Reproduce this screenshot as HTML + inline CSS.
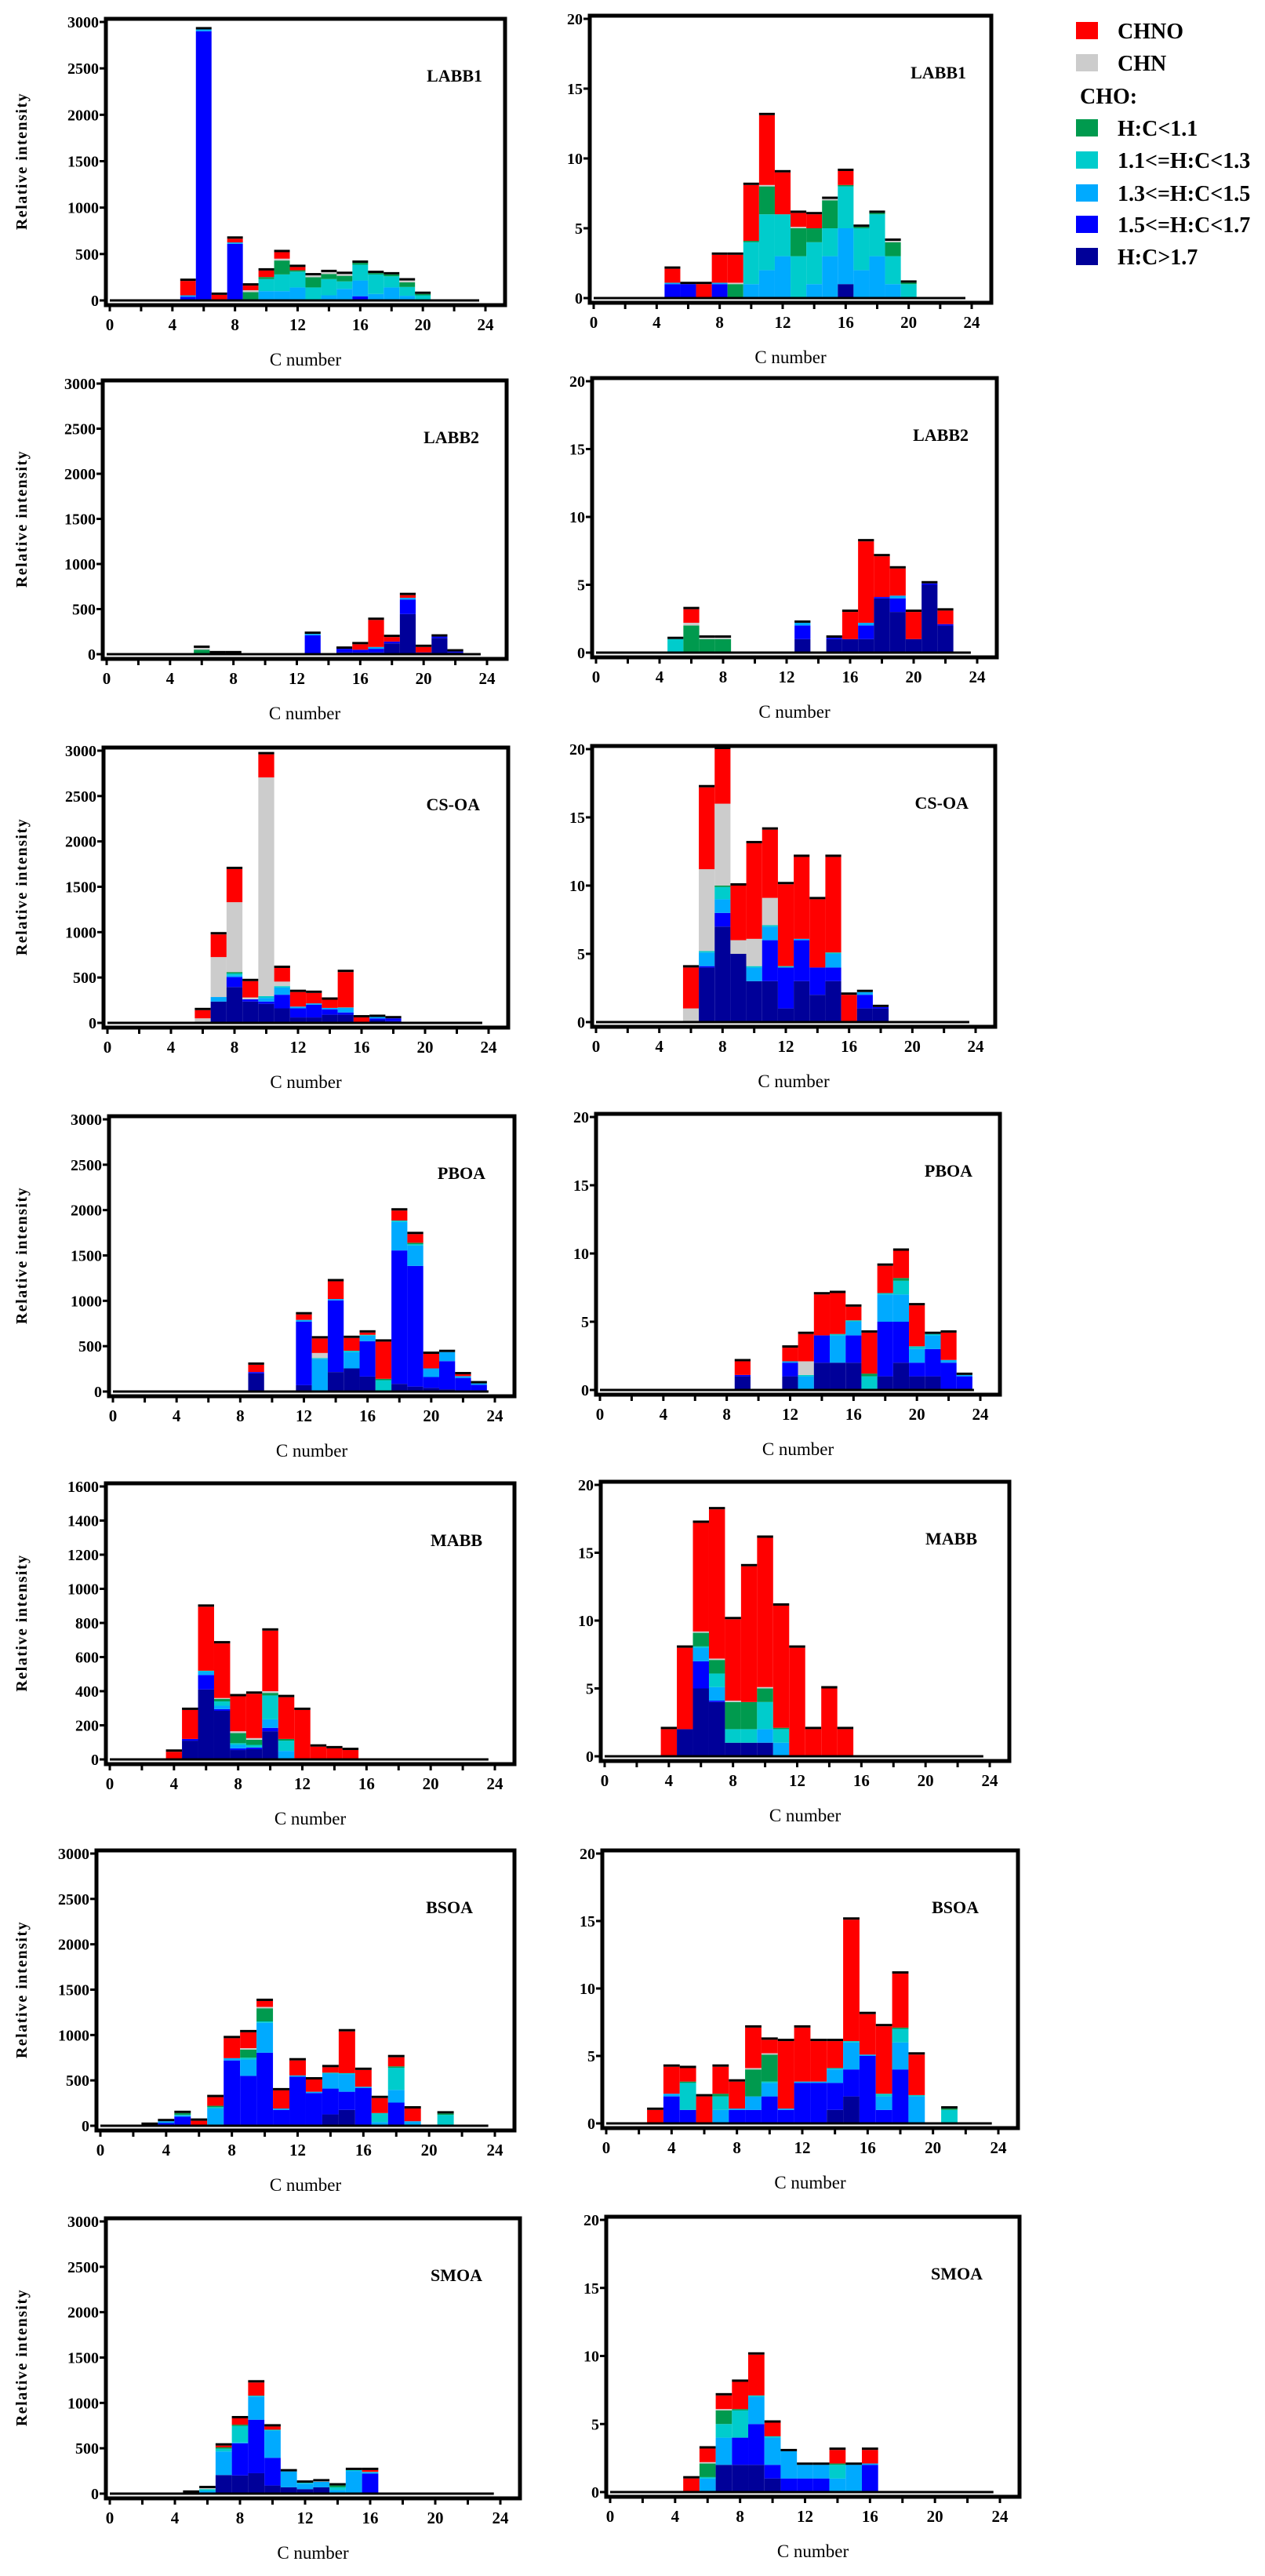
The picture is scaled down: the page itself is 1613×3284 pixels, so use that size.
<!DOCTYPE html>
<html><head><meta charset="utf-8"><style>
html,body{margin:0;padding:0;background:#fff;}
svg text{font-family:"Liberation Serif",serif;}
</style></head><body>
<svg id="chart" width="1613" height="3279" viewBox="0 0 1613 3279" xmlns="http://www.w3.org/2000/svg"></svg>
<script>
// series order: H:C>1.7, 1.5-1.7, 1.3-1.5, 1.1-1.3, H:C<1.1, CHN, CHNO
const seriesNames = ["H:C>1.7","1.5<=H:C<1.7","1.3<=H:C<1.5","1.1<=H:C<1.3","H:C<1.1","CHN","CHNO"];
const seriesColors = ["#000099","#0000ff","#00aaff","#00cccc","#009a4e","#cccccc","#ff0000"];

// ---- LABB1 left ----
const labb1L_c   = [5,6,7,8,9,10,11,12,13,14,15,16,17,18,19,20];
const labb1L_dkb = [0,0,0,0,0,0,0,0,0,0,0,0,0,0,0,0];
const labb1L_blu = [40,2900,0,610,0,0,0,0,0,0,0,45,0,0,0,0];
const labb1L_lbl = [15,20,0,15,0,100,100,140,0,55,125,170,70,140,50,0];
const labb1L_cya = [0,0,0,0,0,130,180,170,140,175,80,170,210,120,95,55];
const labb1L_grn = [0,0,0,0,90,22,150,15,110,55,60,20,15,20,50,15];
const labb1L_gry = [0,0,0,0,20,0,20,0,20,20,20,0,0,0,20,0];
const labb1L_red = [155,0,60,40,50,70,70,35,0,0,0,0,0,0,0,0];
// ---- LABB1 right ----
const labb1R_c   = [5,6,7,8,9,10,11,12,13,14,15,16,17,18,19,20];
const labb1R_dkb = [0,0,0,0,0,0,0,0,0,0,0,1,0,0,0,0];
const labb1R_blu = [1,1,0,1,0,0,0,0,0,0,0,0,0,0,0,0];
const labb1R_lbl = [0.1,0,0,0.1,0,1,2,3,0,1,3,4,2,3,1,0];
const labb1R_cya = [0,0,0,0,0,3,4,3,3,3,2,3,3,3,2,1];
const labb1R_grn = [0,0,0,0,1,0.1,2,0,2,1,2,0.1,0.1,0.1,1,0.1];
const labb1R_gry = [0,0,0,0,0.1,0,0.1,0,0.1,0,0.1,0,0,0,0.1,0];
const labb1R_red = [1,0,1,2,2,4,5,3,1,1,0,1,0,0,0,0];
// ---- LABB2 left ----
const labb2L_c   = [6,7,8,13,15,16,17,18,19,20,21,22];
const labb2L_dkb = [0,0,0,5,20,20,20,120,445,20,180,20];
const labb2L_blu = [0,0,0,205,40,30,40,20,160,0,15,10];
const labb2L_lbl = [0,0,0,15,0,0,20,0,20,0,0,0];
const labb2L_cya = [0,0,0,0,0,0,0,0,0,0,0,0];
const labb2L_grn = [50,0,0,0,0,0,0,0,0,0,0,0];
const labb2L_gry = [20,10,10,0,0,0,0,0,0,0,0,0];
const labb2L_red = [0,0,0,0,0,60,300,50,30,60,0,0];
// ---- LABB2 right ----
const labb2R_c   = [5,6,7,8,13,15,16,17,18,19,20,21,22];
const labb2R_dkb = [0,0,0,0,1,1,1,1,4,3,1,5,2];
const labb2R_blu = [0,0,0,0,1,0.1,0,1,0.1,1,0,0.1,0.1];
const labb2R_lbl = [0,0,0,0,0.2,0,0,0.2,0,0.2,0,0,0];
const labb2R_cya = [1,0,0,0,0,0,0,0,0,0,0,0,0];
const labb2R_grn = [0,2,1,1,0,0,0,0,0,0,0,0,0];
const labb2R_gry = [0,0.2,0.1,0.1,0,0,0,0,0,0,0,0,0];
const labb2R_red = [0,1,0,0,0,0,2,6,3,2,2,0,1];
// ---- CS-OA left ----
const csoaL_c   = [6,7,8,9,10,11,12,13,14,15,16,17,18];
const csoaL_dkb = [0,235,395,235,210,160,60,60,90,90,0,30,20];
const csoaL_blu = [0,0,110,25,25,150,100,140,60,25,0,20,30];
const csoaL_lbl = [0,50,20,0,40,80,20,15,15,50,0,15,0];
const csoaL_cya = [0,0,20,0,20,15,0,0,0,5,0,0,0];
const csoaL_grn = [0,0,15,0,0,0,0,0,0,0,0,0,0];
const csoaL_gry = [50,440,770,20,2410,50,0,0,0,0,0,0,0];
const csoaL_red = [90,250,365,180,255,150,160,115,90,390,60,0,0];
// ---- CS-OA right ----
const csoaR_c   = [6,7,8,9,10,11,12,13,14,15,16,17,18];
const csoaR_dkb = [0,4,7,5,3,3,1,3,2,3,0,1,1];
const csoaR_blu = [0,0.1,1,0,0,3,3,3,2,1,0,1,0.1];
const csoaR_lbl = [0,1,1,0,1,1,0,0.1,0,1,0,0.2,0];
const csoaR_cya = [0,0.1,0.9,0,0.1,0.1,0.1,0,0,0.1,0,0,0];
const csoaR_grn = [0,0,0.1,0,0,0,0,0,0,0,0,0,0];
const csoaR_gry = [1,6,6,1,2,2,0,0,0,0,0,0,0];
const csoaR_red = [3,6,4,4,7,5,6,6,5,7,2,0,0];
// ---- PBOA left ----
const pboaL_c   = [9,12,13,14,15,16,17,18,19,20,21,22,23];
const pboaL_dkb = [200,70,0,215,255,165,0,85,55,40,25,10,0];
const pboaL_blu = [15,700,0,790,0,390,0,1470,1330,120,310,140,75];
const pboaL_lbl = [0,20,360,15,180,60,0,315,225,95,100,20,15];
const pboaL_cya = [0,0,10,0,15,10,125,15,15,0,0,0,0];
const pboaL_grn = [0,0,0,0,0,0,15,0,15,0,0,0,0];
const pboaL_gry = [0,0,55,0,0,0,0,0,0,0,0,0,0];
const pboaL_red = [80,60,160,195,140,25,410,110,95,160,0,20,0];
// ---- PBOA right ----
const pboaR_c   = [9,12,13,14,15,16,17,18,19,20,21,22,23];
const pboaR_dkb = [1,1,0,2,2,2,0,1,2,1,1,0,0];
const pboaR_blu = [0.1,1,0,2,0,2,0,4,3,1,2,2,1];
const pboaR_lbl = [0,0.1,1,0,2,1,0,2,2,1,1,0.2,0.1];
const pboaR_cya = [0,0,0.1,0,0.1,0.1,1,0.1,1,0.2,0.1,0,0];
const pboaR_grn = [0,0,0,0,0,0,0.2,0,0.2,0,0,0,0];
const pboaR_gry = [0,0,1,0,0,0,0,0,0,0,0,0,0];
const pboaR_red = [1,1,2,3,3,1,3,2,2,3,0,2,0];
// ---- MABB left ----
const mabbL_c   = [4,5,6,7,8,9,10,11,12,13,14,15];
const mabbL_dkb = [0,110,410,285,55,60,165,0,0,0,0,0];
const mabbL_blu = [0,10,85,10,10,10,20,0,0,0,0,0];
const mabbL_lbl = [0,0,20,20,20,0,50,50,0,0,0,0];
const mabbL_cya = [0,0,5,25,10,15,140,60,0,0,0,0];
const mabbL_grn = [0,0,0,15,60,30,15,10,0,0,0,0];
const mabbL_gry = [0,0,0,5,10,10,10,0,0,5,0,0];
const mabbL_red = [45,170,375,320,205,260,355,245,290,70,65,55];
// ---- MABB right ----
const mabbR_c   = [4,5,6,7,8,9,10,11,12,13,14,15];
const mabbR_dkb = [0,2,5,4,1,1,1,0,0,0,0,0];
const mabbR_blu = [0,0,2,0.1,0,0,0,0,0,0,0,0];
const mabbR_lbl = [0,0,1,1,0,0,1,1,0,0,0,0];
const mabbR_cya = [0,0,0.1,1,1,1,2,1,0,0,0,0];
const mabbR_grn = [0,0,1,1,2,2,1,0.1,0,0,0,0];
const mabbR_gry = [0,0,0.1,0.1,0.1,0,0.1,0,0,0,0,0];
const mabbR_red = [2,6,8,11,6,10,11,9,8,2,5,2];
// ---- BSOA left ----
const bsoaL_c   = [3,4,5,6,7,8,9,10,11,12,13,14,15,16,17,18,19,21];
const bsoaL_dkb = [0,0,0,0,0,0,0,0,0,0,0,125,175,0,0,0,0,0];
const bsoaL_blu = [10,30,100,0,0,720,550,805,175,540,360,285,200,415,0,255,0,0];
const bsoaL_lbl = [0,20,15,0,190,25,180,330,15,15,15,165,195,15,40,140,50,0];
const bsoaL_cya = [0,0,5,0,15,0,20,15,0,0,0,10,10,0,100,245,0,120];
const bsoaL_grn = [0,0,20,0,15,0,90,145,0,0,0,0,0,0,0,15,0,15];
const bsoaL_gry = [0,0,0,0,0,0,15,15,0,0,0,0,0,0,0,0,0,0];
const bsoaL_red = [0,0,0,55,95,220,175,65,200,165,135,60,460,185,165,100,140,0];
// ---- BSOA right ----
const bsoaR_c   = [3,4,5,6,7,8,9,10,11,12,13,14,15,16,17,18,19,21];
const bsoaR_dkb = [0,0,0,0,0,0,0,0,0,0,0,1,2,0,0,0,0,0];
const bsoaR_blu = [0,2,1,0,0,1,1,2,1,3,3,2,2,5,1,4,0,0];
const bsoaR_lbl = [0,0.2,0,0,1,0.1,1,1,0.1,0.1,0.1,1,2,0.1,1,2,2,0];
const bsoaR_cya = [0,0,2,0,1,0,0,0.1,0,0,0,0.1,0.1,0,0.2,1,0.1,1];
const bsoaR_grn = [0,0,0.1,0,0.2,0,2,2,0,0,0,0,0,0,0,0.1,0,0.1];
const bsoaR_gry = [0,0,0,0,0,0,0.1,0.1,0,0,0,0,0,0,0,0,0,0];
const bsoaR_red = [1,2,1,2,2,2,3,1,5,4,3,2,9,3,5,4,3,0];
// ---- SMOA left ----
const smoaL_c   = [5,6,7,8,9,10,11,12,13,14,15,16];
const smoaL_dkb = [10,0,205,200,225,90,70,50,70,0,0,0];
const smoaL_blu = [0,0,0,355,590,305,0,0,0,0,0,220];
const smoaL_lbl = [0,30,260,10,255,300,175,60,60,40,250,15];
const smoaL_cya = [0,20,30,180,10,10,0,10,0,30,10,5];
const smoaL_grn = [0,0,15,15,0,0,0,0,0,20,0,0];
const smoaL_gry = [0,10,0,0,0,0,0,0,5,0,0,0];
const smoaL_red = [0,0,20,70,145,35,0,0,0,0,0,20];
// ---- SMOA right ----
const smoaR_c   = [5,6,7,8,9,10,11,12,13,14,15,16];
const smoaR_dkb = [0,0,2,2,2,1,0,0,0,0,0,0];
const smoaR_blu = [0,0,0,2,3,1,1,1,1,0,0,2];
const smoaR_lbl = [0,1,2,0,2,2,2,1,1,1,2,0.1];
const smoaR_cya = [0,0.1,1,2,0.1,0.1,0,0,0,1,0,0];
const smoaR_grn = [0,1,1,0.1,0,0,0,0,0,0.1,0,0];
const smoaR_gry = [0,0.1,0.1,0,0,0,0,0,0,0,0,0];
const smoaR_red = [1,1,1,2,3,1,0,0,0,1,0,1];

const NS = "http://www.w3.org/2000/svg";
const svg = document.getElementById('chart');
function mk(tag, attrs, parent){
  const e = document.createElementNS(NS, tag);
  for (const k in attrs) e.setAttribute(k, attrs[k]);
  (parent||svg).appendChild(e);
  return e;
}

const panels = [
  {name:"labb1-left", label:"LABB1", c:labb1L_c, s:[labb1L_dkb,labb1L_blu,labb1L_lbl,labb1L_cya,labb1L_grn,labb1L_gry,labb1L_red], x0:140, x24:619, yTop:28, yZero:383, max:3000, step:500, left:true},
  {name:"labb1-right", label:"LABB1", c:labb1R_c, s:[labb1R_dkb,labb1R_blu,labb1R_lbl,labb1R_cya,labb1R_grn,labb1R_gry,labb1R_red], x0:757, x24:1239, yTop:24, yZero:380, max:20, step:5},
  {name:"labb2-left", label:"LABB2", c:labb2L_c, s:[labb2L_dkb,labb2L_blu,labb2L_lbl,labb2L_cya,labb2L_grn,labb2L_gry,labb2L_red], x0:136, x24:621, yTop:489, yZero:834, max:3000, step:500, left:true},
  {name:"labb2-right", label:"LABB2", c:labb2R_c, s:[labb2R_dkb,labb2R_blu,labb2R_lbl,labb2R_cya,labb2R_grn,labb2R_gry,labb2R_red], x0:760, x24:1246, yTop:486, yZero:832, max:20, step:5},
  {name:"csoa-left", label:"CS-OA", c:csoaL_c, s:[csoaL_dkb,csoaL_blu,csoaL_lbl,csoaL_cya,csoaL_grn,csoaL_gry,csoaL_red], x0:137, x24:623, yTop:957, yZero:1304, max:3000, step:500, left:true},
  {name:"csoa-right", label:"CS-OA", c:csoaR_c, s:[csoaR_dkb,csoaR_blu,csoaR_lbl,csoaR_cya,csoaR_grn,csoaR_gry,csoaR_red], x0:760, x24:1244, yTop:955, yZero:1303, max:20, step:5},
  {name:"pboa-left", label:"PBOA", c:pboaL_c, s:[pboaL_dkb,pboaL_blu,pboaL_lbl,pboaL_cya,pboaL_grn,pboaL_gry,pboaL_red], x0:144, x24:631, yTop:1427, yZero:1774, max:3000, step:500, left:true},
  {name:"pboa-right", label:"PBOA", c:pboaR_c, s:[pboaR_dkb,pboaR_blu,pboaR_lbl,pboaR_cya,pboaR_grn,pboaR_gry,pboaR_red], x0:765, x24:1250, yTop:1424, yZero:1772, max:20, step:5},
  {name:"mabb-left", label:"MABB", c:mabbL_c, s:[mabbL_dkb,mabbL_blu,mabbL_lbl,mabbL_cya,mabbL_grn,mabbL_gry,mabbL_red], x0:140, x24:631, yTop:1895, yZero:2243, max:1600, step:200, left:true},
  {name:"mabb-right", label:"MABB", c:mabbR_c, s:[mabbR_dkb,mabbR_blu,mabbR_lbl,mabbR_cya,mabbR_grn,mabbR_gry,mabbR_red], x0:771, x24:1262, yTop:1893, yZero:2239, max:20, step:5},
  {name:"bsoa-left", label:"BSOA", c:bsoaL_c, s:[bsoaL_dkb,bsoaL_blu,bsoaL_lbl,bsoaL_cya,bsoaL_grn,bsoaL_gry,bsoaL_red], x0:128, x24:631, yTop:2363, yZero:2710, max:3000, step:500, left:true},
  {name:"bsoa-right", label:"BSOA", c:bsoaR_c, s:[bsoaR_dkb,bsoaR_blu,bsoaR_lbl,bsoaR_cya,bsoaR_grn,bsoaR_gry,bsoaR_red], x0:773, x24:1273, yTop:2363, yZero:2707, max:20, step:5},
  {name:"smoa-left", label:"SMOA", c:smoaL_c, s:[smoaL_dkb,smoaL_blu,smoaL_lbl,smoaL_cya,smoaL_grn,smoaL_gry,smoaL_red], x0:140, x24:638, yTop:2832, yZero:3179, max:3000, step:500, left:true},
  {name:"smoa-right", label:"SMOA", c:smoaR_c, s:[smoaR_dkb,smoaR_blu,smoaR_lbl,smoaR_cya,smoaR_grn,smoaR_gry,smoaR_red], x0:778, x24:1275, yTop:2830, yZero:3177, max:20, step:5}
];

panels.forEach(p => {
  const g = mk('g', {});
  
  
  const unit = (p.x24 - p.x0) / 24;
  const xs = v => p.x0 + v * unit;
  const ys = v => p.yZero - v / p.max * (p.yZero - p.yTop);
  const L = p.x0 - 5, R = p.x24 + 25, T = p.yTop - 4, B = p.yZero + 6;

  p.c.forEach((c, i) => {
    let acc = 0;
    const bg = mk('g', {}, g);
    
    
    p.s.forEach((arr, k) => {
      const v = arr[i];
      if (v > 0) {
        const y1 = ys(acc + v), y0 = ys(acc);
        const r = mk('rect', {x: xs(c - 0.5), y: y1, width: unit, height: Math.max(y0 - y1, 0.5), fill: seriesColors[k]}, bg);
        
        
      }
      acc += v;
    });
    if (acc > 0) {
      const cap = mk('rect', {x: xs(c - 0.5), y: ys(acc) - 3, width: unit, height: 3, fill: '#000'}, bg);
      
      
    }
  });

  const bl = mk('line', {x1: xs(0), x2: xs(23.6), y1: p.yZero, y2: p.yZero, stroke: '#000', 'stroke-width': 3}, g);
  
  

  const fr = mk('rect', {x: L, y: T, width: R - L, height: B - T, fill: 'none', stroke: '#000', 'stroke-width': 5}, g);
  
  

  for (let v = 0; v <= p.max + 1e-9; v += p.step) {
    const y = ys(v);
    mk('line', {x1: L - 8, x2: L, y1: y, y2: y, stroke: '#000', 'stroke-width': 3}, g);
    const t = mk('text', {x: L - 9, y: y + 7, 'text-anchor': 'end', 'font-size': 20, 'font-weight': 'bold'}, g);
    t.textContent = v;
    
    
  }
  for (let v = 0; v <= 24; v += 2) {
    const x = xs(v);
    mk('line', {x1: x, x2: x, y1: B, y2: B + 8, stroke: '#000', 'stroke-width': 3}, g);
    if (v % 4 === 0) {
      const t = mk('text', {x: x, y: p.yZero + 38, 'text-anchor': 'middle', 'font-size': 21, 'font-weight': 'bold'}, g);
      t.textContent = v;
      
      
    }
  }
  const xt = mk('text', {x: (L + R) / 2, y: p.yZero + 83, 'text-anchor': 'middle', 'font-size': 23}, g);
  xt.textContent = 'C number';
  
  
  const pl = mk('text', {x: L + 480, y: p.yTop + 76, 'text-anchor': 'end', 'font-size': 22, 'font-weight': 'bold'}, g);
  pl.textContent = p.label;
  
  
  if (p.left) {
    const cy = (p.yTop + p.yZero) / 2;
    const yt = mk('text', {x: 0, y: 0, transform: 'translate(34,' + cy + ') rotate(-90)', 'text-anchor': 'middle', 'font-size': 20, 'font-weight': 'bold', 'letter-spacing': 1.5}, g);
    yt.textContent = 'Relative intensity';
    
    
  }
});

const legendLabels = ["CHNO","CHN","H:C<1.1","1.1<=H:C<1.3","1.3<=H:C<1.5","1.5<=H:C<1.7","H:C>1.7"];
const legendColors = ["#ff0000","#cccccc","#009a4e","#00cccc","#00aaff","#0000ff","#000099"];
const legendBaselines = [49,90,173,214,256,296,337];
const lg = mk('g', {});


legendLabels.forEach((lab, i) => {
  const eg = mk('g', {}, lg);
  
  
  mk('rect', {x: 1372, y: legendBaselines[i] - 21, width: 28, height: 22, fill: legendColors[i]}, eg);
  const t = mk('text', {x: 1425, y: legendBaselines[i], 'font-size': 28, 'font-weight': 'bold'}, eg);
  t.textContent = lab;
});
const cho = mk('text', {x: 1377, y: 132, 'font-size': 28, 'font-weight': 'bold'}, lg);
cho.textContent = 'CHO:';


</script>
</body></html>
